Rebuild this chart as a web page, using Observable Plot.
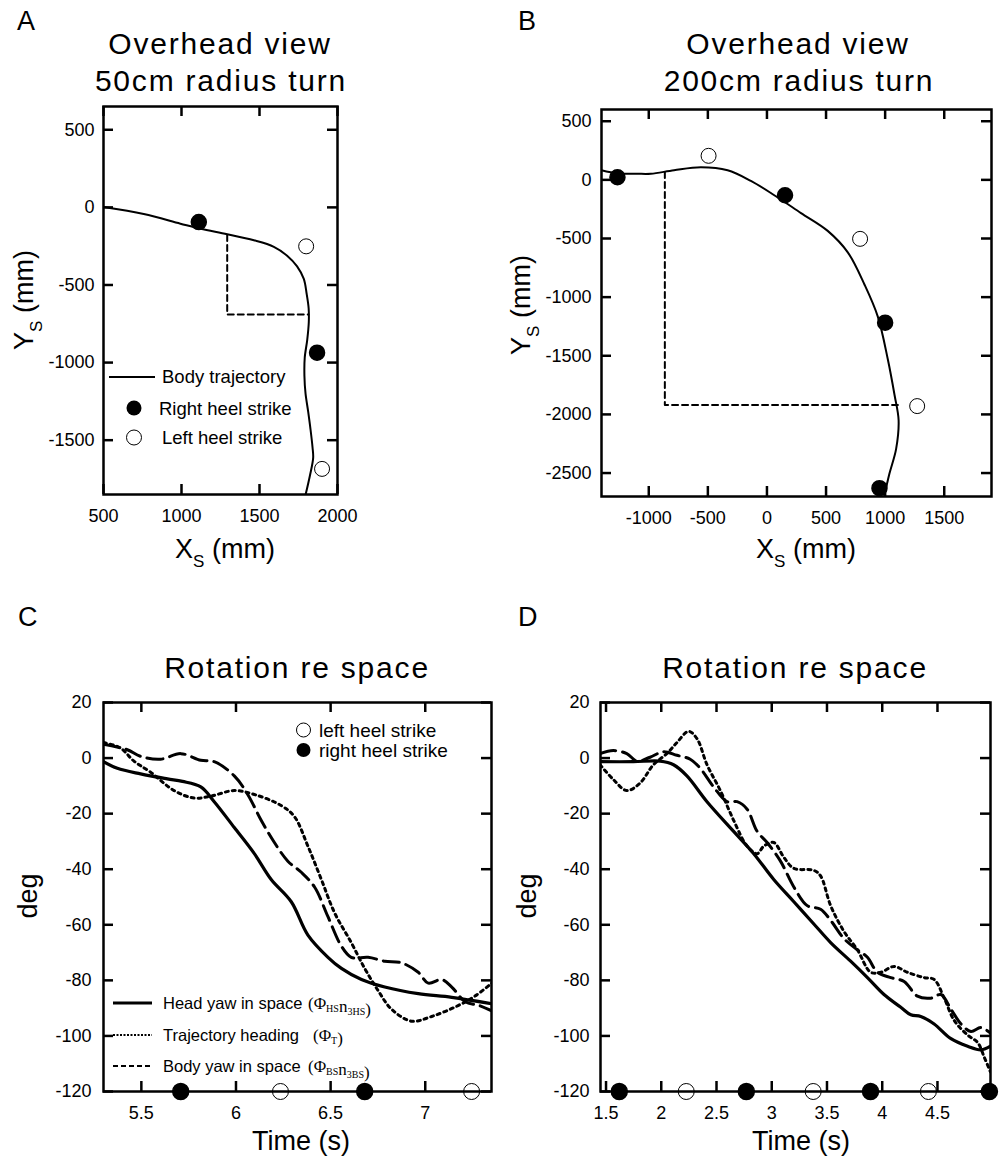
<!DOCTYPE html>
<html>
<head>
<meta charset="utf-8">
<script src="https://cdn.jsdelivr.net/npm/d3@7"></script>
<script src="https://cdn.jsdelivr.net/npm/@observablehq/plot@0.6"></script>
<style>
  html, body { margin: 0; padding: 0; background: #fff; }
  #fig { position: relative; width: 1002px; height: 1159px; overflow: hidden; background: #fff; }
  #fig > .panel { position: absolute; }
  #fig > svg.overlay { position: absolute; left: 0; top: 0; pointer-events: none; }
</style>
</head>
<body>
<div id="fig"></div>
<script>
// ---------- Panel A: overhead view, 50 cm radius turn (mm) ----------
const trajA = [[500,2],[758,-43],[993,-105],[1122,-138],[1293,-173],[1464,-212],[1592,-254],[1677,-311],
  [1741,-380],[1784,-461],[1802,-555],[1815,-650],[1816,-738],[1806,-853],[1790,-968],[1788,-1086],
  [1795,-1199],[1812,-1316],[1827,-1430],[1840,-1547],[1844,-1614],[1823,-1729],[1795,-1853]];
const radiusA = [[1293,-178],[1293,-690],[1814,-690]];
const rightStrikeA = [[1111,-95],[1869,-936]];
const leftStrikeA = [[1799,-251],[1901,-1685]];
const xTicksA = [500, 1000, 1500, 2000];
const yTicksA = [500, 0, -500, -1000, -1500];

// ---------- Panel B: overhead view, 200 cm radius turn (mm) ----------
const trajB = [[-1400,82],[-1265,55],[-1100,52],[-983,52],[-786,82],[-559,107],[-333,82],[-136,-9],
  [62,-131],[288,-283],[514,-435],[684,-618],[825,-892],[938,-1166],[1023,-1532],[1080,-1837],
  [1114,-2050],[1093,-2294],[1036,-2507],[989,-2715]];
const radiusB = [[-864,66],[-864,-1919],[1108,-1919]];
const rightStrikeB = [[-1265,22],[153,-131],[1000,-1218],[952,-2629]];
const leftStrikeB = [[-494,205],[788,-503],[1271,-1929]];
const xTicksB = [-1000, -500, 0, 500, 1000, 1500];
const yTicksB = [500, 0, -500, -1000, -1500, -2000, -2500];

// ---------- Panel C: rotation re space, 50 cm turn (time s, deg) ----------
const headC = [[5.30,-1.3],[5.373,-3.7],[5.496,-5.7],[5.638,-7.5],[5.717,-8.4],[5.814,-10.4],[5.885,-15.7],
  [5.991,-25.0],[6.097,-34.4],[6.186,-43.7],[6.292,-51.7],[6.380,-63.7],[6.486,-71.7],[6.557,-75.7],
  [6.663,-79.7],[6.786,-82.4],[6.963,-84.8],[7.14,-86.1],[7.352,-88.4]];
const trajHeadingC = [[5.30,5.6],[5.39,3.6],[5.461,-1.1],[5.549,-5.1],[5.673,-11.7],[5.779,-14.4],[5.867,-13.7],
  [5.991,-11.7],[6.097,-13.1],[6.239,-17.1],[6.309,-21.1],[6.380,-31.7],[6.451,-43.7],[6.521,-55.7],
  [6.609,-66.4],[6.680,-75.7],[6.751,-83.7],[6.822,-90.4],[6.928,-94.7],[7.034,-93.0],[7.176,-89.0],
  [7.262,-85.7],[7.352,-81.0]];
const bodyC = [[5.30,5.0],[5.426,3.0],[5.496,0.6],[5.602,-0.4],[5.708,1.6],[5.814,-0.8],[5.885,-1.3],
  [5.991,-6.4],[6.062,-13.1],[6.133,-22.4],[6.203,-30.4],[6.274,-37.1],[6.345,-41.1],[6.415,-46.4],
  [6.486,-57.1],[6.557,-67.7],[6.609,-71.7],[6.698,-71.7],[6.786,-73.1],[6.875,-73.7],[6.963,-77.1],
  [7.016,-81.0],[7.087,-79.7],[7.14,-82.4],[7.211,-87.7],[7.282,-89.0],[7.352,-91.0]];
const rightStrikeC = [5.708, 6.68];
const leftStrikeC = [6.235, 7.245];
const xTicksC = [5.5, 6, 6.5, 7];

// ---------- Panel D: rotation re space, 200 cm turn (time s, deg) ----------
const headD = [[1.446,-1.3],[1.748,-1.3],[1.99,-1.1],[2.111,-2.4],[2.232,-6.4],[2.414,-15.7],[2.655,-26.4],
  [2.837,-34.4],[3.018,-43.7],[3.2,-51.7],[3.381,-59.7],[3.533,-66.4],[3.714,-73.1],[3.866,-79.0],
  [4.016,-85.1],[4.168,-89.7],[4.259,-92.4],[4.349,-93.0],[4.47,-95.7],[4.622,-101.0],[4.773,-103.7],
  [4.894,-105.0],[4.98,-103.7]];
const trajHeadingD = [[1.446,-2.4],[1.566,-7.7],[1.688,-11.7],[1.808,-9.0],[1.929,-2.4],[2.05,1.6],[2.142,5.6],
  [2.247,9.6],[2.323,7.0],[2.414,-2.4],[2.535,-11.7],[2.655,-22.4],[2.777,-31.7],[2.868,-34.4],
  [2.928,-31.7],[3.018,-30.4],[3.109,-35.7],[3.2,-39.7],[3.381,-40.4],[3.442,-42.4],[3.533,-53.1],
  [3.654,-62.4],[3.775,-69.0],[3.896,-77.1],[3.987,-77.1],[4.107,-75.0],[4.228,-77.1],[4.379,-79.0],
  [4.47,-79.7],[4.561,-86.4],[4.651,-94.4],[4.773,-99.7],[4.864,-102.4],[4.924,-107.7],[4.98,-113.0]];
const bodyD = [[1.446,1.6],[1.566,2.7],[1.688,1.6],[1.779,-1.1],[1.899,0.3],[2.02,2.3],[2.142,1.0],
  [2.262,-0.4],[2.353,-3.7],[2.474,-10.4],[2.595,-15.7],[2.686,-15.7],[2.777,-18.4],[2.868,-26.4],
  [2.958,-30.4],[3.079,-37.1],[3.2,-46.4],[3.321,-53.1],[3.442,-54.4],[3.533,-58.4],[3.654,-65.0],
  [3.775,-69.0],[3.866,-71.7],[3.957,-77.1],[4.077,-79.0],[4.198,-80.4],[4.319,-85.7],[4.44,-86.4],
  [4.531,-85.1],[4.622,-90.4],[4.713,-95.7],[4.803,-98.4],[4.894,-97.0],[4.98,-99.0]];
const rightStrikeD = [1.62, 2.77, 3.894, 4.97];
const leftStrikeD = [2.226, 3.375, 4.418];
const xTicksD = [1.5, 2, 2.5, 3, 3.5, 4, 4.5];

const yTicksRot = [20, 0, -20, -40, -60, -80, -100, -120];

// ---------- styling ----------
const FONT = '"Liberation Sans", Arial, Helvetica, sans-serif';
const SERIF = '"Liberation Serif", "Times New Roman", serif';
const DOTTED = "3,4";
const DASHED = "16,7";
const fig = document.getElementById("fig");

// One framed panel with inward ticks on all four sides
function panel({left, top, width, height, margin, xDomain, yDomain, xTicks, yTicks, xPad, yPad, marks}) {
  const [mt, mr, mb, ml] = margin;
  const iw = width - ml - mr, ih = height - mt - mb;
  const tickPx = 10;
  // tick length expressed in data units of each scale
  const [x0, x1] = xDomain, [y0, y1] = yDomain;
  const tx = (x1 - x0) * tickPx / iw, ty = (y1 - y0) * tickPx / ih;
  const tickStyle = {stroke: "black", strokeWidth: 2.5};
  const chart = Plot.plot({
    width, height,
    marginTop: mt, marginRight: mr, marginBottom: mb, marginLeft: ml,
    x: {domain: xDomain},
    y: {domain: yDomain},
    style: {fontFamily: FONT, fontSize: "18px", color: "black", background: "transparent", overflow: "visible"},
    marks: [
      Plot.axisX(xTicks, {anchor: "bottom", tickSize: 0, tickPadding: xPad, tickFormat: String, label: null, fontSize: 18}),
      Plot.axisY(yTicks, {anchor: "left", tickSize: 0, tickPadding: yPad, tickFormat: String, label: null, fontSize: 18}),
      Plot.ruleX(xTicks, {x: d => d, y1: y0, y2: y0 + ty, ...tickStyle}),
      Plot.ruleX(xTicks, {x: d => d, y1: y1, y2: y1 - ty, ...tickStyle}),
      Plot.ruleY(yTicks, {y: d => d, x1: x0, x2: x0 + tx, ...tickStyle}),
      Plot.ruleY(yTicks, {y: d => d, x1: x1, x2: x1 - tx, ...tickStyle}),
      ...marks,
      Plot.frame({stroke: "black", strokeWidth: 2.5})
    ]
  });
  chart.classList.add("panel");
  chart.style.left = left + "px";
  chart.style.top = top + "px";
  fig.appendChild(chart);
}

// Overhead trajectory marks
function overheadMarks(traj, radius, right, left) {
  return [
    Plot.line(radius, {x: d => d[0], y: d => d[1], stroke: "black", strokeWidth: 2, strokeDasharray: "6,4"}),
    Plot.line(traj, {x: d => d[0], y: d => d[1], stroke: "black", strokeWidth: 2, curve: "catmull-rom", clip: true}),
    Plot.dot(right, {x: d => d[0], y: d => d[1], r: 7.5, fill: "black", stroke: "black"}),
    Plot.dot(left, {x: d => d[0], y: d => d[1], r: 7.5, fill: "white", stroke: "black", strokeWidth: 1})
  ];
}

// Rotation traces plus heel strikes along the time axis
function rotationMarks(head, heading, body, right, left) {
  const yBottom = yTicksRot[yTicksRot.length - 1];
  return [
    Plot.line(heading, {x: d => d[0], y: d => d[1], stroke: "black", strokeWidth: 3, strokeDasharray: DOTTED, curve: "catmull-rom", clip: true}),
    Plot.line(body, {x: d => d[0], y: d => d[1], stroke: "black", strokeWidth: 3, strokeDasharray: DASHED, curve: "catmull-rom", clip: true}),
    Plot.line(head, {x: d => d[0], y: d => d[1], stroke: "black", strokeWidth: 3.2, curve: "catmull-rom", clip: true}),
    Plot.dot(right, {x: d => d, y: () => yBottom, r: 8, fill: "black", stroke: "black"}),
    Plot.dot(left, {x: d => d, y: () => yBottom, r: 8, fill: "white", stroke: "black", strokeWidth: 1})
  ];
}

panel({left: 0, top: 0, width: 500, height: 560, margin: [106, 163, 66, 103],
  xDomain: [500, 2000], yDomain: [-1850, 650], xTicks: xTicksA, yTicks: yTicksA, xPad: 15, yPad: 9,
  marks: overheadMarks(trajA, radiusA, rightStrikeA, leftStrikeA)});

panel({left: 500, top: 0, width: 502, height: 560, margin: [109, 11, 64, 101],
  xDomain: [-1400, 1900], yDomain: [-2700, 600], xTicks: xTicksB, yTicks: yTicksB, xPad: 15, yPad: 10,
  marks: overheadMarks(trajB, radiusB, rightStrikeB, leftStrikeB)});

panel({left: 0, top: 580, width: 500, height: 579, margin: [122, 9, 68, 103],
  xDomain: [5.3, 7.35], yDomain: [-120, 20], xTicks: xTicksC, yTicks: yTicksRot, xPad: 15, yPad: 12,
  marks: rotationMarks(headC, trajHeadingC, bodyC, rightStrikeC, leftStrikeC)});

panel({left: 500, top: 580, width: 502, height: 579, margin: [122, 12, 68, 100],
  xDomain: [1.45, 4.98], yDomain: [-120, 20], xTicks: xTicksD, yTicks: yTicksRot, xPad: 15, yPad: 11,
  marks: rotationMarks(headD, trajHeadingD, bodyD, rightStrikeD, leftStrikeD)});

// ---------- titles, panel letters, axis labels and legends ----------
const svg = d3.select(fig).append("svg").attr("class", "overlay")
  .attr("width", 1002).attr("height", 1159)
  .attr("font-family", FONT).attr("fill", "black");

function text(x, y, str, size, anchor = "start", extra = {}) {
  const t = svg.append("text").attr("x", x).attr("y", y).attr("font-size", size)
    .attr("text-anchor", anchor).text(str);
  for (const k in extra) t.attr(k, extra[k]);
  return t;
}

// Label with a subscript, e.g. X_S (mm); rotated when vertical
function subLabel(x, y, main, sub, rest, rotate) {
  const g = svg.append("g").attr("transform", `translate(${x},${y})${rotate ? " rotate(-90)" : ""}`);
  const t = g.append("text").attr("text-anchor", "middle").attr("font-size", 27);
  t.append("tspan").text(main);
  t.append("tspan").attr("font-size", 17).attr("dy", 9).text(sub);
  t.append("tspan").attr("dy", -9).text(rest);
}

const titleStyle = {"letter-spacing": "1.8px"};
// panel letters
text(17, 30, "A", 27);
text(518, 30, "B", 27);
text(18, 626, "C", 27);
text(518, 626, "D", 27);

// titles
text(220, 54, "Overhead view", 30, "middle", titleStyle);
text(221, 91, "50cm radius turn", 30, "middle", titleStyle);
text(798, 54, "Overhead view", 30, "middle", titleStyle);
text(799, 91, "200cm radius turn", 30, "middle", titleStyle);
text(297, 678, "Rotation re space", 30, "middle", titleStyle);
text(795, 678, "Rotation re space", 30, "middle", titleStyle);

// axis labels
subLabel(225, 558, "X", "S", " (mm)", false);
subLabel(806, 558, "X", "S", " (mm)", false);
subLabel(33, 300, "Y", "S", " (mm)", true);
subLabel(530, 305, "Y", "S", " (mm)", true);
text(301, 1150, "Time (s)", 27, "middle");
text(801, 1150, "Time (s)", 27, "middle");
text(0, 0, "deg", 27, "middle", {transform: "translate(37,896) rotate(-90)"});
text(0, 0, "deg", 27, "middle", {transform: "translate(536,896) rotate(-90)"});

// legend, panel A
svg.append("line").attr("x1", 109).attr("x2", 155).attr("y1", 377).attr("y2", 377)
  .attr("stroke", "black").attr("stroke-width", 2);
text(162, 383, "Body trajectory", 18.5);
svg.append("circle").attr("cx", 134).attr("cy", 408).attr("r", 7.5).attr("fill", "black");
text(159, 414.5, "Right heel strike", 18.5);
svg.append("circle").attr("cx", 134).attr("cy", 437.5).attr("r", 7.5).attr("fill", "white").attr("stroke", "black");
text(162, 444, "Left heel strike", 18.5);

// heel-strike key, panel C
svg.append("circle").attr("cx", 303.5).attr("cy", 730).attr("r", 7).attr("fill", "white").attr("stroke", "black");
text(319, 737, "left heel strike", 19);
svg.append("circle").attr("cx", 303.5).attr("cy", 750).attr("r", 7).attr("fill", "black");
text(319, 757, "right heel strike", 19);

// trace legend, panel C
const traces = [
  {y: 1003, label: "Head yaw in space", dash: null, width: 3, sym: ["Φ", "HS", "n", "3HS"], sx: 308},
  {y: 1035, label: "Trajectory heading", dash: "2,1.5", width: 2, sym: ["Φ", "T"], sx: 313},
  {y: 1066, label: "Body yaw in space", dash: "5,3", width: 2, sym: ["Φ", "BS", "n", "3BS"], sx: 308}
];
for (const d of traces) {
  const ln = svg.append("line").attr("x1", 113).attr("x2", 152).attr("y1", d.y).attr("y2", d.y)
    .attr("stroke", "black").attr("stroke-width", d.width);
  if (d.dash) ln.attr("stroke-dasharray", d.dash);
  text(163, d.y + 6, d.label, 16.5);
  const t = svg.append("text").attr("x", d.sx).attr("y", d.y + 6)
    .attr("font-family", SERIF).attr("font-size", 17);
  t.append("tspan").text("(");
  for (let i = 0; i < d.sym.length; i += 2) {
    t.append("tspan").text(d.sym[i]);
    t.append("tspan").attr("font-size", 10).attr("dy", 3).text(d.sym[i + 1]);
    t.append("tspan").attr("dy", -3).text("");
  }
  t.append("tspan").text(")");
}
</script>
</body>
</html>
